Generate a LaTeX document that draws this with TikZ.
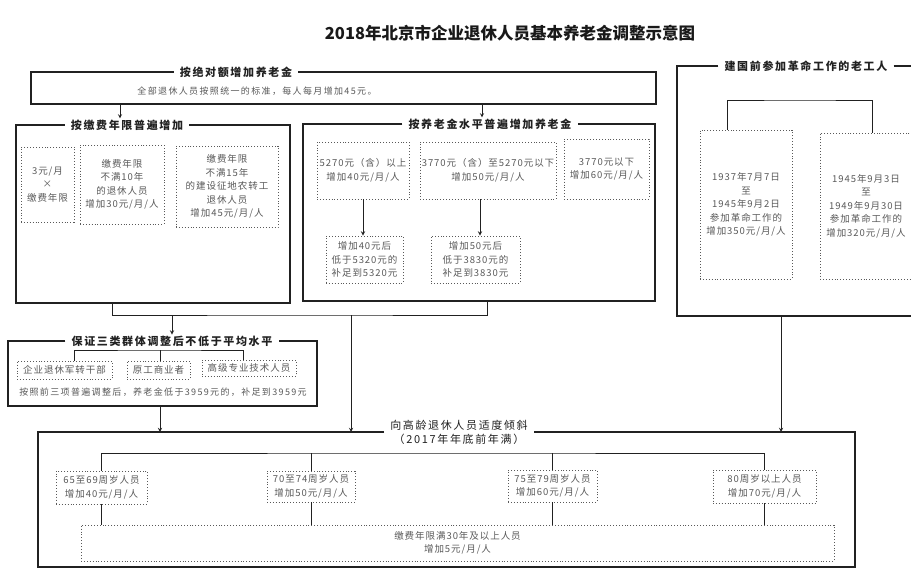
\documentclass[tikz,border=0pt]{standalone}
\usepackage{fontspec}
\newfontfamily\cjk{Noto Sans CJK SC}
\newfontfamily\cjkwide[LetterSpace=15]{Noto Sans CJK SC}
\newfontfamily\cjkbox[LetterSpace=10]{Noto Sans CJK SC}
\definecolor{linegray}{gray}{0.13}
\definecolor{txtgray}{gray}{0.35}

\begin{document}
\begin{tikzpicture}[x=1pt,y=-1pt,>=stealth,
  frame/.style={inner sep=0pt, outer sep=0pt},
  ttl/.style={fill=white, inner xsep=6pt, inner ysep=1pt, text=linegray, align=center, font=\cjkwide\fontsize{11}{14}\selectfont\bfseries},
  dbox/.style={draw=txtgray, dotted, line width=0.9pt, align=center, inner sep=1pt, text=txtgray, font=\cjkbox\fontsize{9.5}{13.5}\selectfont},
  txt/.style={text=txtgray, align=center, font=\cjkwide\fontsize{9}{13}\selectfont},
  ln/.style={draw=linegray, line width=1.3pt},
  conn/.style={draw=linegray, line width=0.9pt}]
  \fill[white] (0,0) rectangle (911,581);
  \useasboundingbox (0,0) rectangle (911,581);

  \node[font=\cjk\fontsize{16.5}{18}\selectfont\bfseries, text=black!90] (title) at (510,33) {2018年北京市企业退休人员基本养老金调整示意图};

  \node[frame, minimum width=625, minimum height=32] (f_abs) at (343.5,88) {};
  \node[ttl] (t_abs) at (236,72) {按绝对额增加养老金};
  \node[txt] (n_abs) at (257,91) {全部退休人员按照统一的标准，每人每月增加45元。};
  \draw[ln] (t_abs.west) -- (f_abs.north west) -- (f_abs.south west) -- (f_abs.south east) -- (f_abs.north east) -- (t_abs.east);

  \node[frame, minimum width=274, minimum height=178] (f_year) at (153,214) {};
  \node[ttl] (t_year) at (127,125) {按缴费年限普遍增加};
  \draw[ln] (t_year.west) -- (f_year.north west) -- (f_year.south west) -- (f_year.south east) -- (f_year.north east) -- (t_year.east);
  \node[dbox, minimum width=53, minimum height=75] (y1) at (47.5,184.5) {3元/月\\×\\缴费年限};
  \node[dbox, minimum width=84, minimum height=79] (y2) at (122,184.5) {缴费年限\\不满10年\\的退休人员\\增加30元/月/人};
  \node[dbox, minimum width=102, minimum height=81] (y3) at (227,186.5) {缴费年限\\不满15年\\的建设征地农转工\\退休人员\\增加45元/月/人};

  \node[frame, minimum width=352, minimum height=177] (f_level) at (479,212.5) {};
  \node[ttl] (t_level) at (490,124) {按养老金水平普遍增加养老金};
  \draw[ln] (t_level.west) -- (f_level.north west) -- (f_level.south west) -- (f_level.south east) -- (f_level.north east) -- (t_level.east);
  \node[dbox, minimum width=92, minimum height=57] (m1) at (363,170.5) {5270元（含）以上\\增加40元/月/人};
  \node[dbox, minimum width=136, minimum height=57] (m2) at (488,170.5) {3770元（含）至5270元以下\\增加50元/月/人};
  \node[dbox, minimum width=85, minimum height=60] (m3) at (606.5,169) {3770元以下\\增加60元/月/人};
  \node[dbox, minimum width=77, minimum height=47] (m4) at (364.5,259.5) {增加40元后\\低于5320元的\\补足到5320元};
  \node[dbox, minimum width=89, minimum height=47] (m5) at (475.5,259.5) {增加50元后\\低于3830元的\\补足到3830元};
  \draw[conn,->] (m1.south) -- (m1.south |- m4.north);
  \draw[conn,->] ([xshift=-8]m2.south) -- ([xshift=-8]m2.south |- m5.north);

  \node[frame, minimum width=235, minimum height=250] (f_old) at (794.5,191) {};
  \node[ttl] (t_old) at (806,66) {建国前参加革命工作的老工人};
  \draw[ln] (t_old.east) -- (f_old.north east);
  \draw[ln] (t_old.west) -- (f_old.north west) -- (f_old.south west) -- (f_old.south east);
  \node[dbox, minimum width=92, minimum height=149] (r1) at (746,204.5) {1937年7月7日\\至\\1945年9月2日\\参加革命工作的\\增加350元/月/人};
  \node[dbox, minimum width=92, minimum height=146] (r2) at (866,206) {1945年9月3日\\至\\1949年9月30日\\参加革命工作的\\增加320元/月/人};
  \coordinate (rj) at (800,100);
  \draw[conn] ([xshift=-19]r1.north) |- (rj) -| ([xshift=6]r2.north);

  \draw[conn,->] ([xshift=-7]t_year.north |- f_abs.south) -- ([xshift=-7]t_year.north);
  \draw[conn,->] ([xshift=-8]t_level.north |- f_abs.south) -- ([xshift=-8]t_level.north);

  \node[frame, minimum width=309, minimum height=65] (f_min) at (162.5,373.5) {};
  \node[ttl] (t_min) at (172,341) {保证三类群体调整后不低于平均水平};
  \draw[ln] (t_min.west) -- (f_min.north west) -- (f_min.south west) -- (f_min.south east) -- (f_min.north east) -- (t_min.east);
  \node[dbox, minimum width=95, minimum height=18] (g1) at (64.5,370) {企业退休军转干部};
  \node[dbox, minimum width=63, minimum height=18] (g2) at (158.5,370) {原工商业者};
  \node[dbox, minimum width=94, minimum height=16] (g3) at (249,368) {高级专业技术人员};
  \node[txt] (n_min) at (163,392) {按照前三项普遍调整后，养老金低于3959元的，补足到3959元};
  \coordinate (gj) at (160,350);
  \draw[conn] ([xshift=9.5]g1.north) |- (gj) -| ([xshift=-6]g3.north);
  \draw[conn] (gj) -- (gj |- g2.north);

  \coordinate (jn) at (300,315);
  \coordinate (j2) at (351,315);
  \draw[conn] ([xshift=-41]f_year.south) |- (jn) -| ([xshift=8]f_level.south);
  \draw[conn,->] (t_min.north |- jn) -- (t_min.north);

  \node[frame, minimum width=817, minimum height=135] (f_age) at (446.5,499.5) {};
  \node[ttl, font=\cjkwide\fontsize{11}{14}\selectfont] (t_age) at (459,432) {向高龄退休人员适度倾斜\\（2017年年底前年满）};
  \draw[ln] (t_age.west) -- (f_age.north west) -- (f_age.south west) -- (f_age.south east) -- (f_age.north east) -- (t_age.east);
  \draw[conn,->] (j2) -- (j2 |- f_age.north);
  \draw[conn,->] ([xshift=-2.5]f_min.south) -- ([xshift=-2.5]f_min.south |- f_age.north);
  \draw[conn,->] ([xshift=-13.5]f_old.south) -- ([xshift=-13.5]f_old.south |- f_age.north);

  \node[dbox, minimum width=91, minimum height=33] (a1) at (101.5,487.5) {65至69周岁人员\\增加40元/月/人};
  \node[dbox, minimum width=88, minimum height=31] (a2) at (311,486.5) {70至74周岁人员\\增加50元/月/人};
  \node[dbox, minimum width=89, minimum height=32] (a3) at (552.5,486) {75至79周岁人员\\增加60元/月/人};
  \node[dbox, minimum width=103, minimum height=33] (a4) at (764.5,486.5) {80周岁以上人员\\增加70元/月/人};
  \node[dbox, minimum width=753, minimum height=36] (a5) at (457.5,543) {缴费年限满30年及以上人员\\增加5元/月/人};
  \coordinate (aj) at (430,453);
  \draw[conn] (a1.north) |- (aj) -| (a4.north);
  \draw[conn] (a2.north) -- (a2.north |- aj);
  \draw[conn] (a3.north) -- (a3.north |- aj);
  \draw[conn] (a1.south) -- (a1.south |- a5.north);
  \draw[conn] (a2.south) -- (a2.south |- a5.north);
  \draw[conn] (a3.south) -- (a3.south |- a5.north);
  \draw[conn] (a4.south) -- (a4.south |- a5.north);
\end{tikzpicture}
\end{document}
